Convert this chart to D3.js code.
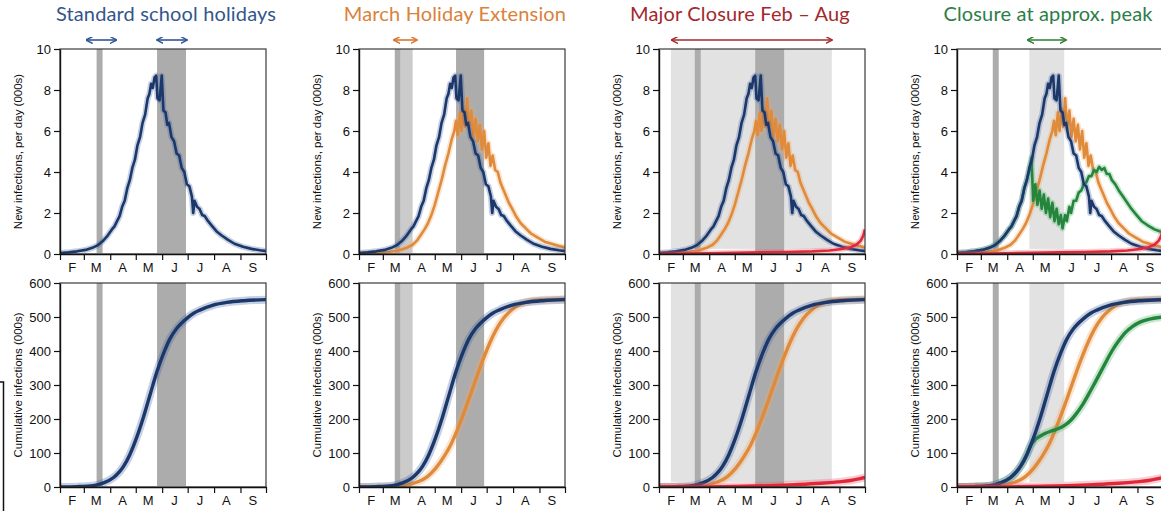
<!DOCTYPE html>
<html>
<head>
<meta charset="utf-8">
<script src="https://cdn.jsdelivr.net/npm/d3@7"></script>
<style>
  body { margin: 0; background: #fff; }
  svg { display: block; }
</style>
</head>
<body>
<div id="app"></div>
<script>
// all x values are days after 1 February
const blueNew = [
  [0, 0.05], [10, 0.08], [20, 0.13], [30, 0.2], [38, 0.3], [44, 0.42], [50, 0.62], [56, 0.9],
  [61, 1.2], [64, 1.35], [67, 1.6], [70, 1.85], [73, 2.3], [76, 2.6], [79, 3.2], [82, 3.6],
  [85, 4.2], [88, 4.6], [91, 5.3], [94, 5.7], [97, 6.4], [100, 6.8], [103, 7.6], [105, 7.8],
  [107, 8.3], [109, 8.1], [111, 8.6], [113, 8.7], [114.5, 7.6], [117, 7.5], [119.5, 8.7],
  [121.5, 7.0], [124, 6.9], [126, 6.3], [128, 6.4], [131, 5.7], [134, 5.5], [137, 4.9],
  [140, 4.8], [143, 4.2], [146, 4.0], [149, 3.4], [152, 3.3], [155, 2.8], [156.5, 2.0],
  [158, 2.6], [161, 2.3], [164, 2.2], [167, 1.9], [170, 1.85], [174, 1.6], [178, 1.4],
  [184, 1.1], [190, 0.9], [197, 0.7], [205, 0.5], [215, 0.35], [225, 0.25], [235, 0.18], [242, 0.14],
];
const orangeNew = [
  [0, 0.03], [20, 0.06], [35, 0.1], [43, 0.15], [50, 0.22], [57, 0.32], [63, 0.45], [68, 0.65],
  [73, 0.95], [77, 1.2], [81, 1.5], [85, 1.9], [89, 2.4], [93, 3.0], [97, 3.6], [101, 4.3],
  [105, 4.9], [109, 5.6], [112, 6.0], [114, 6.5], [116, 5.8], [118.5, 6.9], [120.5, 6.0],
  [123, 7.1], [125, 6.2], [127, 7.6], [129.5, 6.1], [132, 7.0], [134.5, 5.7], [137, 6.6],
  [139.5, 5.5], [142, 6.3], [144.5, 5.1], [147, 6.0], [149.5, 4.7], [152, 5.4], [154.5, 4.3],
  [157, 4.8], [160, 4.1], [163, 4.0], [166, 3.5], [169, 3.2], [172, 2.9], [176, 2.5], [180, 2.2],
  [185, 1.8], [190, 1.5], [196, 1.25], [202, 1.0], [210, 0.8], [218, 0.6], [226, 0.5], [234, 0.4], [242, 0.32],
];
const greenNew = [
  [0, 0.05], [10, 0.08], [20, 0.13], [30, 0.2], [38, 0.3], [44, 0.42], [50, 0.62], [56, 0.9],
  [61, 1.2], [64, 1.35], [67, 1.6], [70, 1.85], [73, 2.3], [76, 2.6], [79, 3.2], [82, 3.6],
  [85, 4.1], [87.5, 4.7], [89.5, 2.6], [92, 3.4], [94.5, 2.4], [97, 3.1], [99.5, 2.2], [102, 2.9],
  [104.5, 2.0], [107, 2.7], [109.5, 1.8], [112, 2.5], [114.5, 1.6], [117, 2.2], [119.5, 1.45],
  [122, 1.9], [124, 1.25], [127, 1.9], [129, 1.6], [132, 2.3], [134, 2.0], [137, 2.6], [140, 2.6],
  [143, 3.0], [146, 3.1], [149, 3.4], [152, 3.5], [155, 3.8], [158, 3.8], [161, 4.1], [164, 4.0],
  [167, 4.25], [170, 4.1], [173, 4.2], [176, 3.9], [179, 3.9], [182, 3.6], [186, 3.4], [190, 3.1],
  [195, 2.8], [200, 2.5], [205, 2.2], [211, 1.9], [217, 1.6], [224, 1.4], [232, 1.2], [242, 1.05],
];
const redNew = [
  [0, 0.0], [30, 0.02], [60, 0.04], [90, 0.06], [120, 0.08], [150, 0.1], [180, 0.13], [200, 0.17],
  [215, 0.24], [225, 0.33], [232, 0.45], [237, 0.65], [240, 0.9], [242, 1.2],
];

const blueCum = [
  [0, 0], [20, 1], [39, 4], [51, 12], [63, 28], [70, 45], [75, 62], [82, 95], [90, 145], [98, 205],
  [106, 273], [114, 340], [122, 395], [129, 435], [137, 466], [149, 496], [157, 511], [165, 521],
  [180, 535], [196, 543], [216, 548], [242, 551],
];
const orangeCum = [
  [0, 0], [30, 0.5], [50, 3], [60, 8], [70, 16], [80, 30], [90, 55], [100, 90], [108, 125], [115, 165],
  [122, 210], [130, 265], [137, 315], [145, 370], [153, 420], [161, 462], [170, 497], [180, 522],
  [190, 538], [200, 546], [215, 550], [242, 552],
];
const greenCum = [
  [0, 0], [20, 1], [39, 4], [51, 12], [63, 28], [70, 45], [75, 62], [82, 95], [86, 120], [92, 140],
  [98, 150], [104, 158], [110, 164], [116, 169], [122, 175], [128, 184], [134, 197], [140, 215],
  [147, 240], [154, 270], [161, 302], [168, 335], [175, 368], [182, 400], [190, 430], [198, 455],
  [206, 472], [215, 485], [225, 493], [242, 500],
];
const redCum = [
  [0, 0], [60, 0.5], [100, 2], [130, 4], [160, 7], [190, 11], [210, 15], [225, 19], [235, 24], [242, 28],
];

const monthLabels = ['F', 'M', 'A', 'M', 'J', 'J', 'A', 'S'];
const newTicks = [0, 2, 4, 6, 8, 10];
const cumTicks = [0, 100, 200, 300, 400, 500, 600];

const titles = ['Standard school holidays', 'March Holiday Extension', 'Major Closure Feb \u2013 Aug', 'Closure at approx. peak'];
// shaded periods per panel: [startDay, endDay, shade]
const panelBands = [
  [[43, 50, 'dark'], [114, 148, 'dark']],
  [[42, 49, 'dark'], [49, 63, 'mid'], [114, 147, 'dark']],
  [[14, 203, 'light'], [42, 49, 'dark'], [113, 147, 'dark']],
  [[42, 49, 'dark'], [85, 126, 'light']],
];
// arrows above each panel: [startDay, endDay]
const panelArrows = [
  [[31, 66], [114, 149]],
  [[41, 68]],
  [[15, 203]],
  [[83, 128]],
];
const panelSeries = [
  ['blue'],
  ['orange', 'blue'],
  ['orange', 'blue', 'red'],
  ['orange', 'green', 'blue', 'red'],
];

const seriesData = {
  blue: { newV: blueNew, cum: blueCum },
  orange: { newV: orangeNew, cum: orangeCum },
  green: { newV: greenNew, cum: greenCum },
  red: { newV: redNew, cum: redCum },
};
const seriesColor = {
  blue: { core: '#1c3769', band: '#3f62a3' },
  orange: { core: '#e08a3c', band: '#f0a866' },
  green: { core: '#23863c', band: '#52b06a' },
  red: { core: '#e0283a', band: '#f06070' },
};
const titleColors = ['#34558c', '#d9823b', '#a3282e', '#2c7d48'];
const arrowColors = ['#2f5597', '#d9782e', '#a52a2a', '#2e7d32'];
const bandFill = { dark: '#acacac', mid: '#cbcbcb', light: '#e2e2e2' };

const panelLeft = [60, 359, 659, 957];
const titleCenter = [166, 455, 740, 1048];
const panelW = 206;
const rowsLayout = [
  { top: 49, bottom: 254, max: 10, ticks: newTicks, key: 'newV', label: 'New infections, per day (000s)', curve: d3.curveLinear },
  { top: 283, bottom: 487, max: 600, ticks: cumTicks, key: 'cum', label: 'Cumulative infections (000s)', curve: d3.curveMonotoneX },
];

const start = new Date(Date.UTC(2009, 1, 1));
const end = new Date(Date.UTC(2009, 9, 1));
const toDate = (d) => new Date(start.getTime() + d * 864e5);

const svg = d3.select('#app').append('svg')
  .attr('width', 1161)
  .attr('height', 511)
  .style('font-family', '"Liberation Sans", Arial, sans-serif');

const defs = svg.append('defs');
arrowColors.forEach((c, i) => {
  defs.append('marker')
    .attr('id', `ah${i}`)
    .attr('viewBox', '0 0 10 10')
    .attr('refX', 9).attr('refY', 5)
    .attr('markerWidth', 7).attr('markerHeight', 7)
    .attr('markerUnits', 'userSpaceOnUse')
    .attr('orient', 'auto-start-reverse')
    .append('path')
    .attr('d', 'M0,0 L10,5 L0,10')
    .attr('fill', 'none')
    .attr('stroke', c)
    .attr('stroke-width', 2);
});

titles.forEach((t, i) => {
  svg.append('text')
    .attr('x', titleCenter[i])
    .attr('y', 21)
    .attr('text-anchor', 'middle')
    .attr('font-family', 'Lato, "Open Sans", sans-serif')
    .attr('font-size', 20)
    .attr('letter-spacing', 0.15)
    .attr('fill', titleColors[i])
    .text(t);
});

panelLeft.forEach((left, p) => {
  const x = d3.scaleUtc().domain([start, end]).range([left, left + panelW]);

  // arrows
  panelArrows[p].forEach(([a, b]) => {
    svg.append('line')
      .attr('x1', x(toDate(a))).attr('x2', x(toDate(b)))
      .attr('y1', 40).attr('y2', 40)
      .attr('stroke', arrowColors[p])
      .attr('stroke-width', 1.6)
      .attr('marker-start', `url(#ah${p})`)
      .attr('marker-end', `url(#ah${p})`);
  });

  rowsLayout.forEach((row, r) => {
    const y = d3.scaleLinear().domain([0, row.max]).range([row.bottom, row.top]);
    const g = svg.append('g');
    const clipId = `clip${p}_${r}`;
    defs.append('clipPath').attr('id', clipId)
      .append('rect')
      .attr('x', left).attr('y', row.top)
      .attr('width', panelW).attr('height', row.bottom - row.top);

    // shaded periods
    g.append('g').selectAll('rect')
      .data(panelBands[p])
      .join('rect')
      .attr('x', (d) => x(toDate(d[0])))
      .attr('width', (d) => x(toDate(d[1])) - x(toDate(d[0])))
      .attr('y', row.top)
      .attr('height', (d) => (d[2] === 'light' ? (row.bottom - row.top) * 0.975 : row.bottom - row.top - 1))
      .attr('fill', (d) => bandFill[d[2]]);

    const line = d3.line()
      .x((d) => x(toDate(d[0])))
      .y((d) => y(d[1]))
      .curve(row.curve);

    const lines = g.append('g').attr('clip-path', `url(#${clipId})`);
    panelSeries[p].forEach((name) => {
      const data = seriesData[name][row.key];
      lines.append('path')
        .datum(data)
        .attr('d', line)
        .attr('fill', 'none')
        .attr('stroke', seriesColor[name].band)
        .attr('stroke-opacity', 0.3)
        .attr('stroke-width', r === 0 ? 6 : 8)
        .attr('stroke-linejoin', 'round');
      lines.append('path')
        .datum(data)
        .attr('d', line)
        .attr('fill', 'none')
        .attr('stroke', seriesColor[name].core)
        .attr('stroke-width', r === 0 ? 2.6 : 3.4)
        .attr('stroke-linejoin', 'round');
    });

    // frame
    g.append('rect')
      .attr('x', left).attr('y', row.top)
      .attr('width', panelW).attr('height', row.bottom - row.top)
      .attr('fill', 'none')
      .attr('stroke', '#3a3a3a')
      .attr('stroke-width', 1.2);

    // y axis
    const yAxis = g.append('g')
      .attr('transform', `translate(${left},0)`)
      .call(d3.axisLeft(y).tickValues(row.ticks).tickSize(6).tickSizeOuter(0).tickPadding(3));
    yAxis.select('.domain').attr('stroke', '#111').attr('stroke-width', 1.4);
    yAxis.selectAll('.tick line').attr('stroke', '#111').attr('stroke-width', 1.2);
    yAxis.selectAll('.tick text')
      .attr('font-size', 13)
      .attr('font-family', '"Liberation Sans", Arial, sans-serif')
      .attr('fill', '#111');

    // x axis, month ticks
    const xAxis = g.append('g')
      .attr('transform', `translate(0,${row.bottom})`)
      .call(d3.axisBottom(x).ticks(d3.utcMonth.every(1)).tickSize(6).tickSizeOuter(0).tickFormat(''));
    xAxis.select('.domain').attr('stroke', '#111').attr('stroke-width', 1.4);
    xAxis.selectAll('.tick line').attr('stroke', '#111').attr('stroke-width', 1.2);

    g.append('g').selectAll('text')
      .data(d3.utcMonth.range(start, end))
      .join('text')
      .attr('x', (d) => x(new Date(d.getTime() + 14.5 * 864e5)))
      .attr('y', row.bottom + 18)
      .attr('text-anchor', 'middle')
      .attr('font-size', 13)
      .attr('fill', '#111')
      .text((d, i) => monthLabels[i]);

    // y axis title
    g.append('text')
      .attr('transform', `translate(${left - 42},${(row.top + row.bottom) / 2}) rotate(-90)`)
      .attr('text-anchor', 'middle')
      .attr('dy', '0.35em')
      .attr('font-size', 11.5)
      .attr('fill', '#111')
      .text(row.label);
  });
});

// cropped frame edge at the lower left of the source image
svg.append('path')
  .attr('d', 'M0,382 H3.5 V511')
  .attr('fill', 'none')
  .attr('stroke', '#111')
  .attr('stroke-width', 1.5);
</script>
</body>
</html>
